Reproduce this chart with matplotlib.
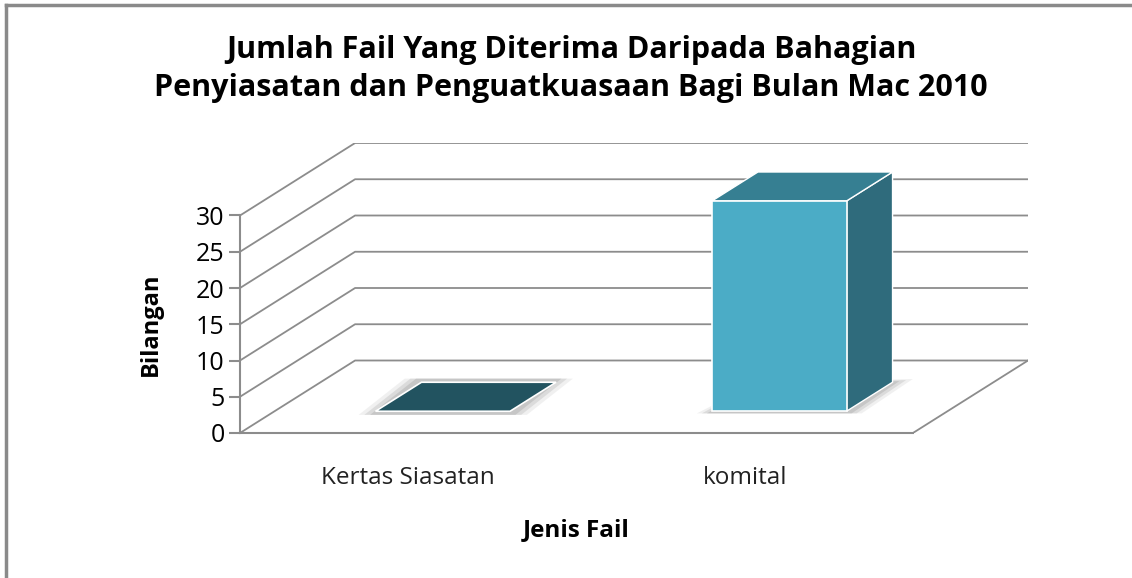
import matplotlib.pyplot as plt
from matplotlib.patches import Polygon

categories = ['Kertas Siasatan', 'komital']
values = [0, 29]
yticks = [0, 5, 10, 15, 20, 25, 30]
title = ('Jumlah Fail Yang Diterima Daripada Bahagian\n'
         'Penyiasatan dan Penguatkuasaan Bagi Bulan Mac 2010')

plt.rcParams['font.family'] = ['Open Sans', 'DejaVu Sans']

# oblique "3d" look: depth shift in data units
DX = 0.342
DY = 10.0
ZMAX = 30
f_d, b_d = 0.3, 0.7      # bar front / back depth
width = 0.4
grid = '#8c8c8c'

fig = plt.figure(figsize=(11.32, 5.78), dpi=100)
ax = fig.add_axes([240/1132, 145/578, 788/1132, 290/578])
n = len(categories)
ax.set_xlim(0, n + DX)
ax.set_ylim(0, ZMAX + DY)

# side wall + back wall grid
for v in yticks:
    ax.plot([0, DX, n + DX], [v, v + DY, v + DY], color=grid, lw=1.3,
            solid_capstyle='butt', zorder=1)
ax.plot([n, n + DX], [0, DY], color=grid, lw=1.3, zorder=1)

def pt(x, y, d):
    return (x + d*DX, y + d*DY)

for i, v in enumerate(values):
    x0 = i + 0.5 - width/2
    x1 = x0 + width
    if v > 0:
        front = [pt(x0, 0, f_d), pt(x1, 0, f_d), pt(x1, v, f_d), pt(x0, v, f_d)]
        side = [pt(x1, 0, f_d), pt(x1, 0, b_d), pt(x1, v, b_d), pt(x1, v, f_d)]
        top = [pt(x0, v, f_d), pt(x1, v, f_d), pt(x1, v, b_d), pt(x0, v, b_d)]
        # soft floor shadow
        for k, a in [(0.045, 0.15), (0.03, 0.25), (0.015, 0.35)]:
            shadow = [pt(x0 - k, -0.3, f_d), pt(x1 + k, -0.3, f_d),
                      pt(x1 + k, 0, b_d + k), pt(x0, 0, b_d)]
            ax.add_patch(Polygon(shadow, closed=True, fc='#a0a0a0', ec='none',
                                 alpha=a, zorder=2))
        ax.add_patch(Polygon(side, closed=True, fc='#2f6b7c', ec='white',
                             lw=1, zorder=3))
        ax.add_patch(Polygon(top, closed=True, fc='#367f92', ec='white',
                             lw=1, zorder=3))
        ax.add_patch(Polygon(front, closed=True, fc='#4bacc6', ec='white',
                             lw=1.2, zorder=4))
    else:
        flat = [pt(x0, 0, f_d), pt(x1, 0, f_d), pt(x1, 0, b_d), pt(x0, 0, b_d)]
        for k, a in [(0.05, 0.15), (0.033, 0.25), (0.016, 0.35)]:
            shadow = [pt(x0 - k, -0.5, f_d), pt(x1 + k, -0.5, f_d),
                      pt(x1 + k, 0.5, b_d), pt(x0 - k, 0.5, b_d)]
            ax.add_patch(Polygon(shadow, closed=True, fc='#a0a0a0', ec='none',
                                 alpha=a, zorder=2))
        ax.add_patch(Polygon(flat, closed=True, fc='#225360', ec='white',
                             lw=1.2, zorder=3))

for s in ['top', 'right']:
    ax.spines[s].set_visible(False)
ax.spines['left'].set_bounds(0, ZMAX)
ax.spines['bottom'].set_bounds(0, n)
for s in ['left', 'bottom']:
    ax.spines[s].set_color(grid)
    ax.spines[s].set_linewidth(1.5)

ax.set_yticks(yticks)
ax.tick_params(axis='y', length=8, width=1.5, color=grid, pad=3,
               labelsize=18, labelcolor='black')
ax.set_xticks([i + 0.5 for i in range(n)])
ax.set_xticklabels(categories)
ax.tick_params(axis='x', length=0, pad=24, labelsize=17.5, labelcolor='#222222')

ax.set_xlabel('Jenis Fail', fontsize=17.5, fontweight='bold', labelpad=20,
              x=(n / 2) / (n + DX))
ax.set_ylabel('Bilangan', fontsize=17, fontweight='bold', labelpad=24,
              y=(ZMAX / 2) / (ZMAX + DY))

fig.text(571/1132, 1 - 69/578, title, ha='center', va='center',
         fontsize=22, fontweight='bold', linespacing=1.35)

# chart frame (left and top edge visible)
fig.add_artist(plt.Line2D([6/1132, 6/1132], [0, 1 - 5/578], color='#8a8a8a',
                          lw=2.5, transform=fig.transFigure))
fig.add_artist(plt.Line2D([6/1132, 1], [1 - 5/578, 1 - 5/578], color='#8a8a8a',
                          lw=2.5, transform=fig.transFigure))

fig.savefig('out.png', dpi=100)
